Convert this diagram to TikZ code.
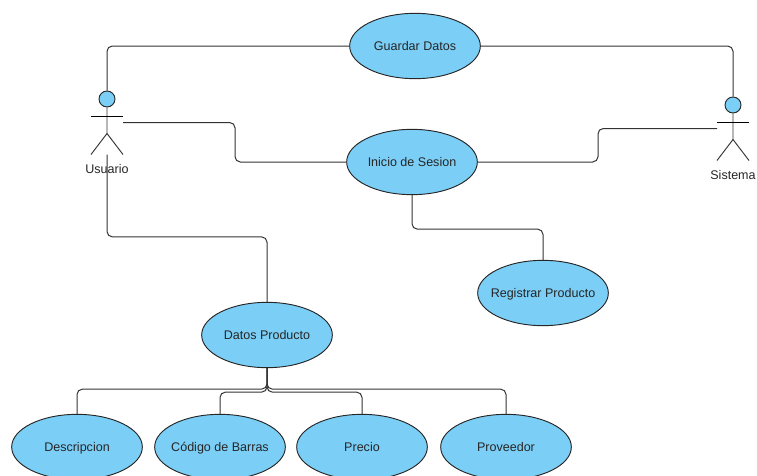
\documentclass[tikz,border=0pt]{standalone}
\usepackage{fontspec}
\setmainfont{Liberation Sans}
\usepackage{tikz}
\usetikzlibrary{positioning, shapes.geometric}
\definecolor{casefill}{HTML}{7BCEF5}
\definecolor{linegray}{HTML}{333333}
\tikzset{
    usecase/.style={ellipse, draw=black!85, fill=casefill, line width=0.7pt, minimum width=98pt, minimum height=49pt, inner xsep=-12pt, inner ysep=0pt, text height=8pt, text depth=1.4pt, text=black!85, font=\fontsize{9.4}{11}\selectfont},
    link/.style={draw=linegray, line width=0.75pt, rounded corners=4pt},
    actor/.pic = {
    \node[circle, draw=black!85, fill=casefill, line width=0.7pt, minimum size=12pt, inner sep=0pt] (-head) at (0,0) {};
    \coordinate (-handl) at (-16,23.5);
    \coordinate (-handr) at (16,23.5);
    \coordinate (-foot) at (0,55.5);
    \draw[linegray, line width=0.7pt] (-head) -- (0,34.5) -- (-16,55.5);
    \draw[linegray, line width=0.7pt] (0,34.5) -- (16,55.5);
    \draw[black, line width=0.7pt] (-16,17) -- (16,17);
    \node[text=black!85, font=\fontsize{9.4}{11}\selectfont] (-label) at (0,70) {#1};
    },
}

\begin{document}
\begin{tikzpicture}[x=0.75pt, y=-0.75pt]
    \tikzset{
      node distance=87pt,
      on grid
    }
    \clip (0,0) rectangle (757,475);

    \pic (usr) at (107,99) {actor=Usuario};
    \pic (sis) at (733,105) {actor=Sistema};

    \node[usecase] (guardar) at (415,46) {Guardar Datos};
    \node[usecase, below=of guardar, xshift=-2.25pt] (inicio) {Inicio de Sesion};
    \node[usecase] (registrar) at (543,293) {Registrar Producto};
    \node[usecase] (datos) at (267,335) {Datos Producto};

    \node[usecase] (desc) at (77,447) {Descripcion};
    \node[usecase, right=107.25pt of desc] (codigo) {Código de Barras};
    \node[usecase, right=106.5pt of codigo] (precio) {Precio};
    \node[usecase, right=108pt of precio] (prov) {Proveedor};

    \draw[link] (usr-head.north) |- (guardar.west);
    \draw[link] (sis-head.north) |- (guardar.east);

    \draw[link] (usr-handr) -- ++(112,0) |- (inicio.west);
    \draw[link] (sis-handl) -- ++(-119,0) |- (inicio.east);

    \draw[link] (inicio.south) -- ++(0,34) -| (registrar.north);
    \draw[link] (datos.north) -- ++(0,-65) -| (usr-foot);

    \draw[link] (datos.south) -- ++(0,21) -| (desc.north);
    \draw[link] (datos.south) -- ++(0,24) -| (codigo.north);
    \draw[link] (datos.south) -- ++(0,24) -| (precio.north);
    \draw[link] (datos.south) -- ++(0,21) -| (prov.north);
  \end{tikzpicture}
\end{document}
